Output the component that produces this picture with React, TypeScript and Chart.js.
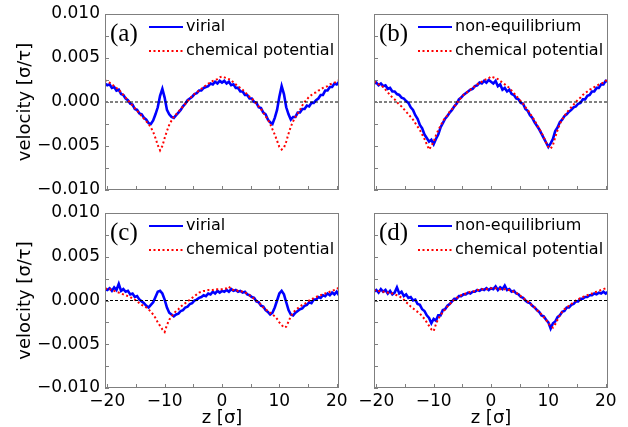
import React, { useEffect, useRef } from 'react';
import { Chart, registerables } from 'chart.js';

Chart.register(...registerables);

// z positions (sigma)
const zValues = [
  -20.4, -20.0, -19.6, -19.2, -18.8, -18.4, -18.0, -17.6, -17.2, -16.8,
  -16.4, -16.0, -15.6, -15.2, -14.8, -14.4, -14.0, -13.6, -13.2, -12.8,
  -12.4, -12.0, -11.6, -11.2, -10.8, -10.4, -10.0, -9.6, -9.2, -8.8,
  -8.4, -8.0, -7.6, -7.2, -6.8, -6.4, -6.0, -5.6, -5.2, -4.8,
  -4.4, -4.0, -3.6, -3.2, -2.8, -2.4, -2.0, -1.6, -1.2, -0.8,
  -0.4, 0.0, 0.4, 0.8, 1.2, 1.6, 2.0, 2.4, 2.8, 3.2,
  3.6, 4.0, 4.4, 4.8, 5.2, 5.6, 6.0, 6.4, 6.8, 7.2,
  7.6, 8.0, 8.4, 8.8, 9.2, 9.6, 10.0, 10.4, 10.8, 11.2,
  11.6, 12.0, 12.4, 12.8, 13.2, 13.6, 14.0, 14.4, 14.8, 15.2,
  15.6, 16.0, 16.4, 16.8, 17.2, 17.6, 18.0, 18.4, 18.8, 19.2,
  19.6, 20.0, 20.4,
];

// (a) virial
const virialA = [
  0.0021, 0.0019, 0.0020, 0.0016, 0.0017, 0.0013, 0.0014, 0.0009, 0.0008, 0.0004,
  0.0002, -0.0002, -0.0003, -0.0008, -0.0009, -0.0013, -0.0014, -0.0018, -0.0020, -0.0024,
  -0.0025, -0.0021, -0.0014, -0.0006, 0.0007, 0.0015, 0.0005, -0.0009, -0.0014, -0.0017,
  -0.0018, -0.0015, -0.0012, -0.0009, -0.0005, -0.0002, 0.0002, 0.0004, 0.0006, 0.0009,
  0.0010, 0.0013, 0.0013, 0.0016, 0.0017, 0.0018, 0.0021, 0.0020, 0.0023, 0.0021,
  0.0024, 0.0022, 0.0024, 0.0021, 0.0023, 0.0019, 0.0020, 0.0016, 0.0016, 0.0012,
  0.0012, 0.0008, 0.0008, 0.0004, 0.0004, 0.0000, -0.0001, -0.0006, -0.0007, -0.0012,
  -0.0014, -0.0020, -0.0023, -0.0025, -0.0018, -0.0009, 0.0006, 0.0018, 0.0009, -0.0006,
  -0.0014, -0.0020, -0.0017, -0.0017, -0.0012, -0.0012, -0.0008, -0.0008, -0.0004, -0.0005,
  -0.0001, -0.0001, 0.0002, 0.0004, 0.0008, 0.0008, 0.0013, 0.0013, 0.0017, 0.0017,
  0.0021, 0.0020, 0.0023,
];

// (a) chemical potential
const chemA = [
  0.0025, 0.0023, 0.0022, 0.0020, 0.0018, 0.0016, 0.0014, 0.0011, 0.0008, 0.0005,
  0.0002, -0.0001, -0.0004, -0.0007, -0.0010, -0.0013, -0.0016, -0.0019, -0.0022, -0.0025,
  -0.0029, -0.0034, -0.0041, -0.0049, -0.0055, -0.0050, -0.0041, -0.0033, -0.0026, -0.0021,
  -0.0017, -0.0014, -0.0011, -0.0008, -0.0005, -0.0002, 0.0001, 0.0004, 0.0007, 0.0009,
  0.0011, 0.0013, 0.0015, 0.0017, 0.0019, 0.0021, 0.0022, 0.0024, 0.0025, 0.0026,
  0.0028, 0.0029, 0.0028, 0.0027, 0.0026, 0.0025, 0.0022, 0.0020, 0.0018, 0.0016,
  0.0014, 0.0011, 0.0009, 0.0006, 0.0004, 0.0001, -0.0002, -0.0005, -0.0008, -0.0012,
  -0.0016, -0.0020, -0.0025, -0.0031, -0.0037, -0.0044, -0.0051, -0.0054, -0.0052, -0.0045,
  -0.0036, -0.0028, -0.0022, -0.0017, -0.0013, -0.0009, -0.0004, 0.0000, 0.0003, 0.0006,
  0.0008, 0.0010, 0.0011, 0.0013, 0.0014, 0.0016, 0.0017, 0.0018, 0.0020, 0.0021,
  0.0022, 0.0023, 0.0025,
];

// (b) non-equilibrium
const noneqB = [
  0.0021, 0.0022, 0.0019, 0.0021, 0.0018, 0.0019, 0.0015, 0.0016, 0.0012, 0.0012,
  0.0009, 0.0008, 0.0005, 0.0004, 0.0001, -0.0001, -0.0006, -0.0009, -0.0015, -0.0019,
  -0.0026, -0.0030, -0.0037, -0.0041, -0.0045, -0.0043, -0.0048, -0.0042, -0.0037, -0.0029,
  -0.0024, -0.0019, -0.0016, -0.0012, -0.0009, -0.0005, -0.0002, 0.0003, 0.0005, 0.0008,
  0.0010, 0.0012, 0.0014, 0.0015, 0.0018, 0.0019, 0.0022, 0.0021, 0.0024, 0.0022,
  0.0025, 0.0023, 0.0021, 0.0024, 0.0018, 0.0020, 0.0014, 0.0016, 0.0012, 0.0014,
  0.0009, 0.0008, 0.0004, 0.0003, -0.0001, -0.0002, -0.0008, -0.0010, -0.0015, -0.0018,
  -0.0023, -0.0027, -0.0031, -0.0036, -0.0041, -0.0046, -0.0051, -0.0047, -0.0042, -0.0033,
  -0.0029, -0.0023, -0.0020, -0.0016, -0.0014, -0.0011, -0.0009, -0.0006, -0.0005, -0.0002,
  -0.0001, 0.0003, 0.0003, 0.0007, 0.0008, 0.0012, 0.0012, 0.0016, 0.0016, 0.0020,
  0.0020, 0.0024, 0.0023,
];

// (b) chemical potential
const chemB = [
  0.0023, 0.0022, 0.0020, 0.0019, 0.0017, 0.0014, 0.0011, 0.0008, 0.0005, 0.0003,
  0.0000, -0.0003, -0.0005, -0.0008, -0.0011, -0.0014, -0.0017, -0.0020, -0.0024, -0.0028,
  -0.0032, -0.0037, -0.0042, -0.0048, -0.0054, -0.0050, -0.0045, -0.0038, -0.0032, -0.0027,
  -0.0022, -0.0018, -0.0015, -0.0011, -0.0008, -0.0005, -0.0002, 0.0002, 0.0005, 0.0008,
  0.0010, 0.0012, 0.0014, 0.0016, 0.0018, 0.0020, 0.0022, 0.0023, 0.0025, 0.0026,
  0.0027, 0.0029, 0.0028, 0.0027, 0.0026, 0.0024, 0.0022, 0.0020, 0.0018, 0.0016,
  0.0013, 0.0010, 0.0007, 0.0004, 0.0001, -0.0002, -0.0006, -0.0009, -0.0013, -0.0017,
  -0.0021, -0.0026, -0.0030, -0.0035, -0.0040, -0.0046, -0.0051, -0.0053, -0.0049, -0.0040,
  -0.0032, -0.0025, -0.0020, -0.0016, -0.0012, -0.0009, -0.0006, -0.0003, 0.0000, 0.0003,
  0.0005, 0.0008, 0.0010, 0.0012, 0.0014, 0.0015, 0.0017, 0.0018, 0.0020, 0.0021,
  0.0022, 0.0024, 0.0025,
];

// (c) virial
const virialC = [
  0.0013, 0.0012, 0.0014, 0.0011, 0.0015, 0.0012, 0.0019, 0.0011, 0.0013, 0.0010,
  0.0011, 0.0007, 0.0008, 0.0004, 0.0005, 0.0001, -0.0001, -0.0003, -0.0006, -0.0008,
  -0.0005, -0.0002, 0.0004, 0.0010, 0.0011, 0.0008, 0.0001, -0.0008, -0.0014, -0.0016,
  -0.0018, -0.0016, -0.0015, -0.0012, -0.0011, -0.0008, -0.0007, -0.0004, -0.0003, 0.0000,
  0.0001, 0.0003, 0.0004, 0.0006, 0.0005, 0.0008, 0.0007, 0.0010, 0.0008, 0.0011,
  0.0009, 0.0011, 0.0010, 0.0012, 0.0010, 0.0013, 0.0011, 0.0012, 0.0010, 0.0011,
  0.0009, 0.0010, 0.0007, 0.0006, 0.0004, 0.0003, -0.0001, -0.0002, -0.0006, -0.0007,
  -0.0011, -0.0013, -0.0016, -0.0014, -0.0008, 0.0000, 0.0008, 0.0011, 0.0007, -0.0002,
  -0.0011, -0.0016, -0.0017, -0.0014, -0.0012, -0.0010, -0.0009, -0.0006, -0.0005, -0.0002,
  -0.0003, 0.0001, 0.0001, 0.0004, 0.0003, 0.0006, 0.0005, 0.0008, 0.0006, 0.0009,
  0.0007, 0.0010, 0.0006,
];

// (c) chemical potential
const chemC = [
  0.0014, 0.0013, 0.0013, 0.0012, 0.0011, 0.0010, 0.0009, 0.0008, 0.0007, 0.0006,
  0.0005, 0.0004, 0.0002, 0.0001, -0.0001, -0.0003, -0.0005, -0.0006, -0.0008, -0.0010,
  -0.0013, -0.0016, -0.0020, -0.0025, -0.0029, -0.0033, -0.0036, -0.0028, -0.0022, -0.0018,
  -0.0015, -0.0012, -0.0010, -0.0007, -0.0005, -0.0003, -0.0001, 0.0001, 0.0003, 0.0005,
  0.0007, 0.0009, 0.0010, 0.0011, 0.0011, 0.0012, 0.0012, 0.0012, 0.0013, 0.0013,
  0.0013, 0.0013, 0.0013, 0.0014, 0.0016, 0.0013, 0.0012, 0.0012, 0.0011, 0.0011,
  0.0010, 0.0009, 0.0008, 0.0006, 0.0004, 0.0002, 0.0000, -0.0002, -0.0005, -0.0008,
  -0.0010, -0.0012, -0.0014, -0.0016, -0.0018, -0.0021, -0.0025, -0.0028, -0.0031, -0.0030,
  -0.0024, -0.0018, -0.0014, -0.0011, -0.0009, -0.0007, -0.0005, -0.0004, -0.0002, 0.0000,
  0.0001, 0.0003, 0.0004, 0.0005, 0.0006, 0.0007, 0.0008, 0.0009, 0.0010, 0.0011,
  0.0012, 0.0013, 0.0015,
];

// (d) non-equilibrium
const noneqD = [
  0.0010, 0.0012, 0.0009, 0.0013, 0.0010, 0.0012, 0.0008, 0.0011, 0.0007, 0.0009,
  0.0015, 0.0008, 0.0010, 0.0005, 0.0007, 0.0003, 0.0004, 0.0000, 0.0001, -0.0004,
  -0.0005, -0.0010, -0.0012, -0.0017, -0.0020, -0.0026, -0.0021, -0.0023, -0.0017, -0.0017,
  -0.0011, -0.0010, -0.0006, -0.0004, -0.0001, 0.0002, 0.0002, 0.0005, 0.0005, 0.0007,
  0.0007, 0.0009, 0.0008, 0.0010, 0.0010, 0.0012, 0.0011, 0.0013, 0.0012, 0.0014,
  0.0012, 0.0014, 0.0013, 0.0016, 0.0012, 0.0015, 0.0013, 0.0017, 0.0012, 0.0013,
  0.0010, 0.0011, 0.0008, 0.0007, 0.0004, 0.0003, 0.0000, -0.0002, -0.0003, -0.0006,
  -0.0008, -0.0011, -0.0013, -0.0017, -0.0018, -0.0022, -0.0025, -0.0032, -0.0026, -0.0024,
  -0.0019, -0.0017, -0.0013, -0.0012, -0.0008, -0.0008, -0.0005, -0.0004, -0.0001, -0.0001,
  0.0002, 0.0002, 0.0004, 0.0004, 0.0006, 0.0006, 0.0008, 0.0007, 0.0009, 0.0008,
  0.0010, 0.0008, 0.0010,
];

// (d) chemical potential
const chemD = [
  0.0011, 0.0012, 0.0011, 0.0011, 0.0010, 0.0010, 0.0009, 0.0009, 0.0008, 0.0007,
  0.0006, 0.0005, 0.0003, 0.0001, -0.0002, -0.0004, -0.0007, -0.0009, -0.0011, -0.0013,
  -0.0015, -0.0018, -0.0021, -0.0025, -0.0029, -0.0033, -0.0035, -0.0027, -0.0021, -0.0017,
  -0.0013, -0.0010, -0.0007, -0.0004, -0.0002, 0.0001, 0.0003, 0.0004, 0.0006, 0.0007,
  0.0008, 0.0009, 0.0010, 0.0010, 0.0011, 0.0012, 0.0012, 0.0013, 0.0013, 0.0013,
  0.0014, 0.0014, 0.0014, 0.0014, 0.0014, 0.0013, 0.0013, 0.0013, 0.0012, 0.0012,
  0.0011, 0.0010, 0.0009, 0.0007, 0.0005, 0.0003, 0.0001, -0.0001, -0.0003, -0.0006,
  -0.0008, -0.0011, -0.0013, -0.0016, -0.0019, -0.0022, -0.0026, -0.0029, -0.0031, -0.0027,
  -0.0022, -0.0017, -0.0013, -0.0010, -0.0008, -0.0006, -0.0004, -0.0002, 0.0000, 0.0001,
  0.0003, 0.0004, 0.0005, 0.0006, 0.0007, 0.0008, 0.0009, 0.0010, 0.0011, 0.0012,
  0.0013, 0.0014, 0.0016,
];

const xTicks = [-20, -15, -10, -5, 0, 5, 10, 15, 20];
const xTickLabels = ['−20', '', '−10', '', '0', '', '10', '', '20'];
const yTicks = [-0.01, -0.0075, -0.005, -0.0025, 0, 0.0025, 0.005, 0.0075, 0.01];
const yTickLabels = ['−0.010', '', '−0.005', '', '0.000', '', '0.005', '', '0.010'];

const X_MIN = -20.4;
const X_MAX = 20.4;
const Y_MIN = -0.01;
const Y_MAX = 0.01;

const W = 628;
const H = 427;
const FONT = '"DejaVu Sans", sans-serif';
const FRAME = '#7f7f7f';
const TICK = 4;

type Area = { left: number; top: number; right: number; bottom: number };
type PanelDef = {
  tag: string;
  blueLabel: string;
  blue: number[];
  red: number[];
  area: Area;
  showX: boolean;
  showY: boolean;
};

const panels: PanelDef[] = [
  { tag: '(a)', blueLabel: 'virial', blue: virialA, red: chemA, area: { left: 105, top: 14, right: 339, bottom: 190 }, showX: false, showY: true },
  { tag: '(b)', blueLabel: 'non-equilibrium', blue: noneqB, red: chemB, area: { left: 374, top: 14, right: 608, bottom: 190 }, showX: false, showY: false },
  { tag: '(c)', blueLabel: 'virial', blue: virialC, red: chemC, area: { left: 105, top: 213, right: 339, bottom: 388 }, showX: true, showY: true },
  { tag: '(d)', blueLabel: 'non-equilibrium', blue: noneqD, red: chemD, area: { left: 374, top: 213, right: 608, bottom: 388 }, showX: true, showY: false },
];

const toPoints = (vals: number[]) => zValues.map((z, i) => ({ x: z, y: vals[i] }));

function makeDecor(p: PanelDef) {
  return {
    id: 'decor',
    afterDatasetsDraw(chart: any) {
      const ctx: CanvasRenderingContext2D = chart.ctx;
      const { left, top, right, bottom } = chart.chartArea;
      const xs = chart.scales.x;
      const ys = chart.scales.y;
      ctx.save();
      ctx.setLineDash([]);
      ctx.strokeStyle = FRAME;
      ctx.lineWidth = 1;
      ctx.beginPath();
      xs.ticks.forEach((t: any) => {
        const px = Math.round(xs.getPixelForValue(t.value)) + 0.5;
        ctx.moveTo(px, bottom);
        ctx.lineTo(px, bottom - TICK);
      });
      ys.ticks.forEach((t: any) => {
        const py = Math.round(ys.getPixelForValue(t.value)) + 0.5;
        ctx.moveTo(left, py);
        ctx.lineTo(left + TICK, py);
      });
      ctx.stroke();
      ctx.strokeRect(Math.round(left) + 0.5, Math.round(top) + 0.5, Math.round(right - left) - 1, Math.round(bottom - top) - 1);

      // legend
      const ds = chart.data.datasets;
      const rows = [13, 37];
      [0, 1].forEach((k, r) => {
        const d = ds[k];
        const y = top + rows[r];
        ctx.strokeStyle = d.borderColor;
        ctx.lineWidth = 2;
        ctx.setLineDash(d.borderDash || []);
        ctx.beginPath();
        ctx.moveTo(left + 44, y);
        ctx.lineTo(left + 78, y);
        ctx.stroke();
        ctx.setLineDash([]);
        ctx.fillStyle = '#000';
        ctx.font = '16px ' + FONT;
        ctx.textAlign = 'left';
        ctx.textBaseline = 'middle';
        ctx.fillText(d.label, left + 81, y);
      });
      ctx.font = '25px "Liberation Serif", serif';
      ctx.fillStyle = '#000';
      ctx.textBaseline = 'middle';
      ctx.fillText(p.tag, left + 5, top + 20);
      ctx.restore();
    },
  };
}

function Panel({ p }: { p: PanelDef }) {
  const ref = useRef<HTMLCanvasElement>(null);
  useEffect(() => {
    const a = p.area;
    const chart = new Chart(ref.current as HTMLCanvasElement, {
      type: 'line',
      data: {
        datasets: [
          { label: p.blueLabel, data: toPoints(p.blue), borderColor: '#0000ff', borderWidth: 2.6, pointRadius: 0, tension: 0, order: 2 },
          { label: 'chemical potential', data: toPoints(p.red), borderColor: '#ff0000', borderWidth: 2, borderDash: [2, 2.5], pointRadius: 0, tension: 0, order: 1 },
          { label: 'zero', data: [{ x: X_MIN, y: 0 }, { x: X_MAX, y: 0 }], borderColor: '#000000', borderWidth: 1, borderDash: [3, 2], pointRadius: 0, order: 0 },
        ] as any,
      },
      options: {
        animation: false,
        responsive: false,
        devicePixelRatio: 1,
        events: [],
        layout: {
          padding: {
            left: p.showY ? 0 : a.left,
            top: a.top,
            right: W - a.right,
            bottom: p.showX ? 0 : H - a.bottom,
          },
        },
        plugins: { legend: { display: false }, tooltip: { enabled: false } },
        scales: {
          x: {
            type: 'linear',
            min: X_MIN,
            max: X_MAX,
            afterBuildTicks: (s: any) => { s.ticks = xTicks.map((v) => ({ value: v })); },
            afterFit: (s: any) => { s.height = p.showX ? H - a.bottom : 0; },
            grid: { display: false, drawTicks: false },
            border: { display: false },
            ticks: {
              display: p.showX,
              autoSkip: false,
              maxRotation: 0,
              minRotation: 0,
              padding: 5,
              color: '#000',
              font: { family: FONT, size: 17, lineHeight: 1 },
              callback: (_v: any, i: number) => xTickLabels[i],
            },
            title: {
              display: p.showX,
              text: 'z [σ]',
              color: '#000',
              font: { family: FONT, size: 18, lineHeight: 1 },
              padding: { top: 0, bottom: 0 },
            },
          },
          y: {
            type: 'linear',
            min: Y_MIN,
            max: Y_MAX,
            afterBuildTicks: (s: any) => { s.ticks = yTicks.map((v) => ({ value: v })); },
            afterFit: (s: any) => { s.width = p.showY ? a.left : 0; },
            grid: { display: false, drawTicks: false },
            border: { display: false },
            ticks: {
              display: p.showY,
              autoSkip: false,
              padding: 5,
              color: '#000',
              font: { family: FONT, size: 17, lineHeight: 1 },
              callback: (_v: any, i: number) => yTickLabels[i],
            },
            title: {
              display: p.showY,
              text: 'velocity [σ/τ]',
              color: '#000',
              font: { family: FONT, size: 18, lineHeight: 1 },
              padding: { top: 16, bottom: 0 },
            },
          },
        },
      } as any,
      plugins: [makeDecor(p)],
    });
    return () => chart.destroy();
  }, [p]);
  return (
    <canvas
      ref={ref}
      width={W}
      height={H}
      style={{ position: 'absolute', left: 0, top: 0, width: W, height: H }}
    />
  );
}

export default function App() {
  return (
    <div style={{ position: 'fixed', left: 0, top: 0, width: W, height: H, background: '#ffffff', overflow: 'hidden' }}>
      {panels.map((p) => (
        <Panel key={p.tag} p={p} />
      ))}
    </div>
  );
}
